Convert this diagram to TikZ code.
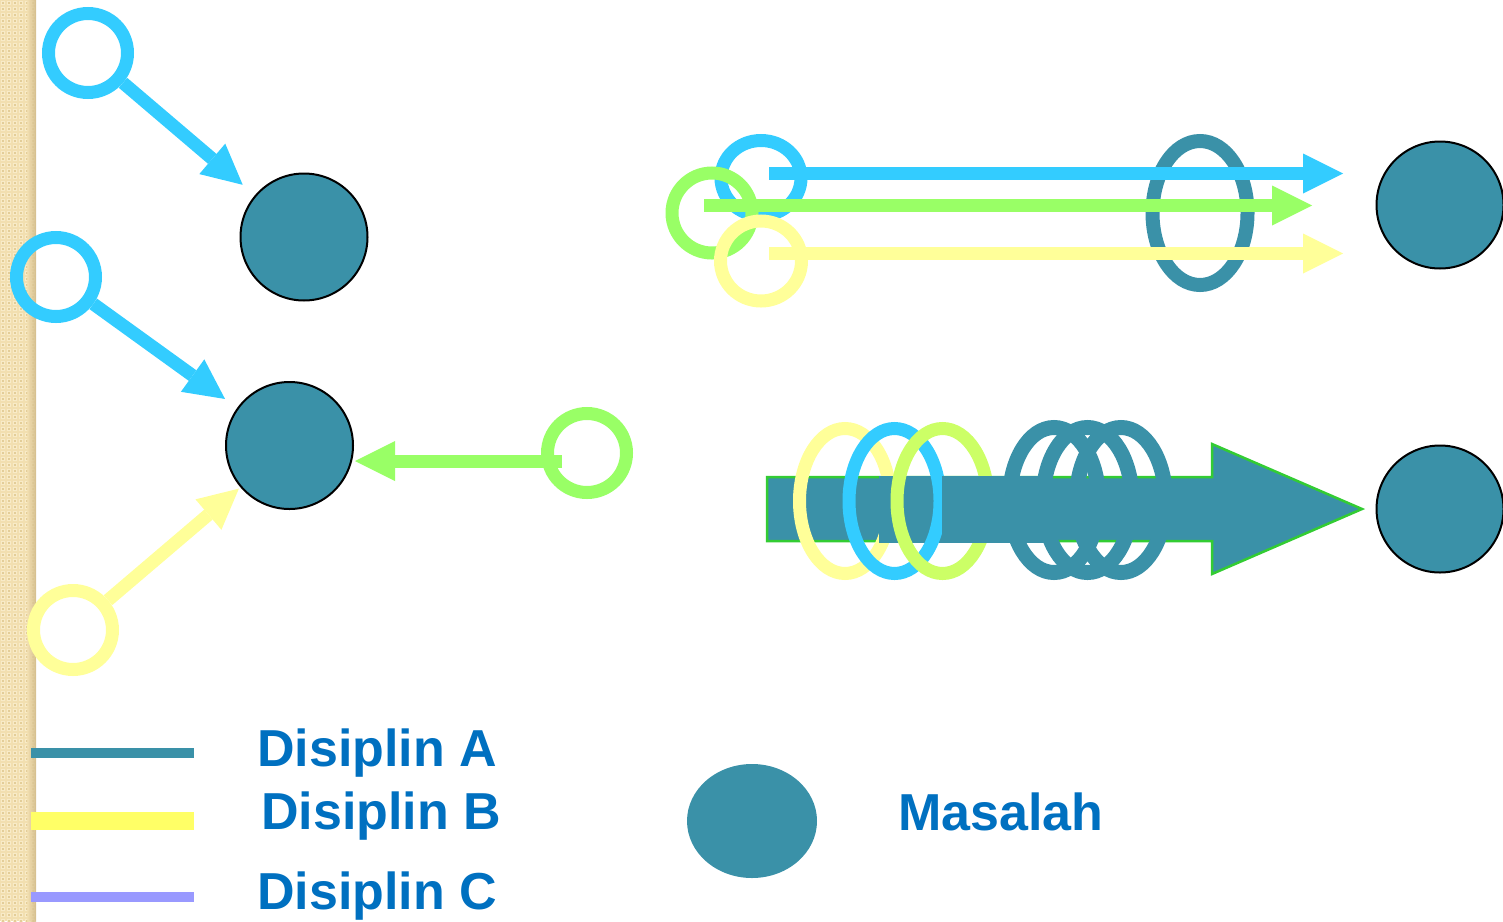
\documentclass[tikz,border=0pt]{standalone}
\usepackage{fontspec}
\setmainfont{Liberation Sans}
\usetikzlibrary{arrows.meta,shapes.geometric}
\definecolor{probteal}{HTML}{3A91A8}
\definecolor{skyc}{HTML}{33CCFF}
\definecolor{limec}{HTML}{99FF66}
\definecolor{palec}{HTML}{FFFF99}
\definecolor{chartc}{HTML}{CCFF66}
\definecolor{edgec}{HTML}{33CC33}
\definecolor{keyyel}{HTML}{FFFF66}
\definecolor{keyvio}{HTML}{9999FF}
\definecolor{labelc}{HTML}{0070C0}
\definecolor{stripbase}{HTML}{F2DFB0}
\definecolor{striplite}{HTML}{F8EBC8}
\definecolor{stripdark}{HTML}{E3CD98}
\definecolor{stripedge}{HTML}{CDB583}
\begin{document}
\begin{tikzpicture}[x=1pt,y=-1pt,
  problem/.style={circle, fill=probteal, draw=black, line width=2pt,
    minimum size=127pt, inner sep=0pt},
  ring/.style={circle, draw=#1, line width=13pt, minimum size=79pt, inner sep=0pt},
  ovalring/.style={ellipse, draw=#1, line width=13pt, inner sep=0pt},
  flow/.style={draw=#1, line width=13pt,
    -{Triangle[length=40pt,width=40pt,line width=0pt]}},
  keyline/.style={draw=#1, line width=10pt},
  keytext/.style={anchor=base west, inner sep=0pt, text=labelc,
    font=\fontsize{52}{52}\selectfont\bfseries}]
\useasboundingbox (0,0) rectangle (1503,921);

% textured border strip
\fill[stripbase] (0,0) rectangle (36,921);
\foreach \i in {0,...,5}{
  \foreach \j in {0,...,153}{
    \fill[striplite] (\i*6+1,\j*6+1) rectangle ++(4,4);
    \fill[stripdark] (\i*6+2,\j*6+2) rectangle ++(2,2);
  }}
\shade[left color=stripbase, right color=stripedge, fill opacity=0.8] (27,0) rectangle (36,921);

% ---- left group: disciplines pointing at problems
\node[problem] (m1) at (304,237) {};
\node[problem] (m2) at (289.5,445.5) {};
\node[ring=skyc]  (ra) at (88,53) {};
\node[ring=skyc]  (rb) at (56,277) {};
\node[ring=palec] (ry) at (73,630) {};
\node[ring=limec] (rg) at (587,453) {};

\draw[flow=skyc, shorten >=16pt] (ra) -- (m1);
\draw[flow=skyc, shorten >=15pt] (rb) -- (m2);
\draw[flow=palec, shorten >=2pt] (ry) -- (m2);
\coordinate (gs) at (562,461);
\draw[flow=limec, shorten >=1pt] (gs) -- (m2.east |- gs);

% ---- top right: parallel disciplines through a shared ring
\node[problem] (m3) at (1440,205) {};
\node[ovalring=probteal, line width=14pt, minimum width=95pt, minimum height=144pt] (ta) at (1200,213) {};
\node[ovalring=skyc,  minimum width=80pt, minimum height=75pt] (tc) at (761,178) {};
\node[ovalring=limec, minimum width=80pt, minimum height=80pt] (tg) at (712,213) {};
\node[ovalring=palec, minimum width=81pt, minimum height=80pt] (ty) at (761,261) {};
\coordinate (c1) at (769,173.5);  \coordinate (c2) at (1343,173.5);
\coordinate (g1) at (704,205.5);  \coordinate (g2) at (1312,205.5);
\coordinate (y1) at (769,253.5);  \coordinate (y2) at (1343,253.5);
\draw[flow=skyc]  (c1) -- (c2);
\draw[flow=limec] (g1) -- (g2);
\draw[flow=palec] (y1) -- (y2);

% ---- bottom right: one shared arrow wrapped by all disciplines
\node[problem] (m4) at (1440,509) {};
\filldraw[fill=probteal, draw=edgec, line width=2.5pt, line join=miter]
  (767,477) -- (1212,477) -- (1212,444) -- (1362,509) -- (1212,574)
  -- (1212,541) -- (767,541) -- cycle;
\node[ovalring=palec, minimum width=91pt, minimum height=145pt] (by) at (845,501) {};
\fill[probteal] (879,475.5) rectangle (942,542.5);
\node[ovalring=skyc,   minimum width=91pt, minimum height=145pt] (bc) at (894.5,501) {};
\node[ovalring=chartc, minimum width=91pt, minimum height=145pt] (bg) at (942.5,501) {};
\fill[probteal] (942,475.5) rectangle (1050,542.5);
\foreach \cx/\nm in {1054/ba, 1087.5/bb, 1121/bd}
  \node[ovalring=probteal, line width=15pt, minimum width=89pt, minimum height=145pt] (\nm) at (\cx,500) {};

% ---- legend
\draw[keyline=probteal] (31,753) -- (194,753);
\draw[keyline=keyyel, line width=18pt] (31,821) -- (194,821);
\draw[keyline=keyvio] (31,897) -- (194,897);
\node[keytext] (la) at (257,766) {Disiplin A};
\node[keytext] (lb) at (261,829) {Disiplin B};
\node[keytext] (lc) at (257,909) {Disiplin C};
\node[ellipse, fill=probteal, minimum width=130pt, minimum height=114pt, inner sep=0pt] (lm) at (752,821) {};
\node[keytext] (lt) at (898,830) {Masalah};
\end{tikzpicture}
\end{document}
